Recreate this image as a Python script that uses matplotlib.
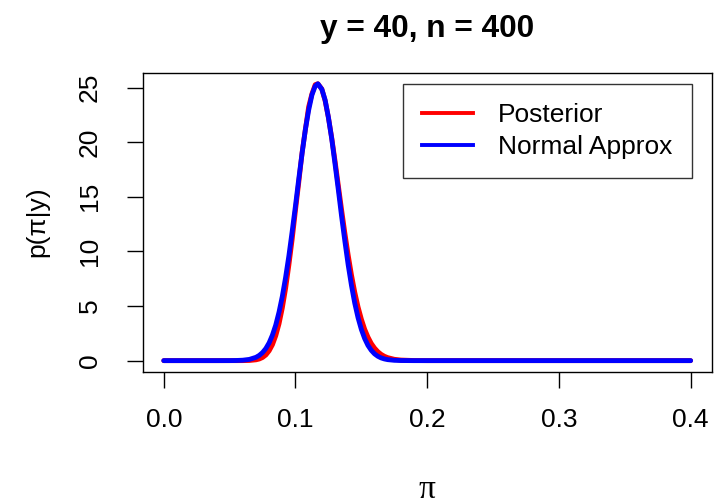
import matplotlib
matplotlib.use("Agg")
import matplotlib.pyplot as plt

plt.rcParams['font.family'] = ['Liberation Sans', 'DejaVu Sans']

# values
pi_grid = [0.0, 0.04, 0.05, 0.055, 0.06, 0.065, 0.07, 0.0725, 0.075, 0.0775,
           0.08, 0.0825, 0.085, 0.0875, 0.09, 0.0925, 0.095, 0.0975, 0.10, 0.1025,
           0.105, 0.1075, 0.11, 0.1125, 0.115, 0.117, 0.12, 0.1225, 0.125, 0.1275,
           0.13, 0.1325, 0.135, 0.1375, 0.14, 0.1425, 0.145, 0.1475, 0.15, 0.1525,
           0.155, 0.1575, 0.16, 0.1625, 0.165, 0.1675, 0.17, 0.175, 0.18, 0.19,
           0.20, 0.40]
posterior = [0, 0, 0, 0, 0.002, 0.015, 0.075, 0.15, 0.287, 0.52,
             0.90, 1.46, 2.28, 3.38, 4.83, 6.62, 8.78, 11.14, 13.79, 16.34,
             19.04, 21.15, 23.24, 24.43, 25.27, 25.35, 24.87, 23.80, 22.26, 20.40,
             18.30, 16.05, 13.81, 11.66, 9.66, 7.84, 6.26, 4.91, 3.80, 2.88,
             2.16, 1.58, 1.15, 0.82, 0.576, 0.398, 0.274, 0.122, 0.052, 0.008,
             0.001, 0]
normal_approx = [0, 0, 0.003, 0.011, 0.038, 0.113, 0.303, 0.48, 0.739, 1.11,
                 1.63, 2.34, 3.25, 4.44, 5.88, 7.62, 9.60, 11.84, 14.18, 16.64,
                 18.97, 21.16, 22.94, 24.34, 25.15, 25.35, 24.85, 23.86, 22.26, 20.33,
                 18.03, 15.67, 13.22, 10.93, 8.77, 6.89, 5.26, 3.93, 2.86, 2.03,
                 1.40, 0.95, 0.623, 0.40, 0.25, 0.154, 0.091, 0.030, 0.009, 0,
                 0, 0]
x_ticks = [0.0, 0.1, 0.2, 0.3, 0.4]
x_labels = ['0.0', '0.1', '0.2', '0.3', '0.4']
y_ticks = [0, 5, 10, 15, 20, 25]

W, H = 715, 504
fig = plt.figure(figsize=(W / 100, H / 100), dpi=100)
ax = fig.add_axes([142.7 / W, 1 - 371.7 / H, (711.7 - 142.7) / W, (371.7 - 72.7) / H])

ax.plot(pi_grid, posterior, color='red', lw=3.5,
        solid_capstyle='round', solid_joinstyle='round')
ax.plot(pi_grid, normal_approx, color='blue', lw=3.5,
        solid_capstyle='round', solid_joinstyle='round')

# R style 4% padding
ymax = max(posterior)
ax.set_xlim(-0.016, 0.416)
ax.set_ylim(-0.04 * ymax, 1.04 * ymax)

ax.set_xticks(x_ticks)
ax.set_xticklabels(x_labels)
ax.set_yticks(y_ticks)
ax.tick_params(axis='both', direction='out', length=11.4, width=1.0,
               labelsize=19, colors='black')
ax.tick_params(axis='x', pad=15)
ax.tick_params(axis='y', pad=18, labelrotation=90)
for lab in ax.get_yticklabels():
    lab.set_va('center')
for sp in ax.spines.values():
    sp.set_linewidth(1.0)

leg_handles = [plt.Line2D([], [], color='red', lw=2.8),
               plt.Line2D([], [], color='blue', lw=2.8)]
leg = ax.legend(leg_handles, ['Posterior', 'Normal Approx'], loc='upper right',
                bbox_to_anchor=(691.7 / W, 1 - 84 / H), bbox_transform=fig.transFigure,
                fontsize=19, frameon=True, fancybox=False, borderaxespad=0,
                handlelength=1.95, handletextpad=0.95, labelspacing=0.3,
                borderpad=0.72)
leg.get_frame().set_edgecolor('black')
leg.get_frame().set_linewidth(1.0)

fig.text(427 / W, 1 - 36.7 / H, 'y = 40, n = 400', ha='center', va='baseline',
         fontsize=22.8, fontweight='bold')
fig.text(427 / W, 1 - 490 / H, 'π', ha='center', va='center', fontsize=24,
         family=['Liberation Serif', 'DejaVu Serif'])
fig.text(37 / W, 1 - 222 / H, 'p(π|y)', ha='center', va='center', fontsize=19,
         rotation=90)

fig.savefig('out.png', dpi=100)
